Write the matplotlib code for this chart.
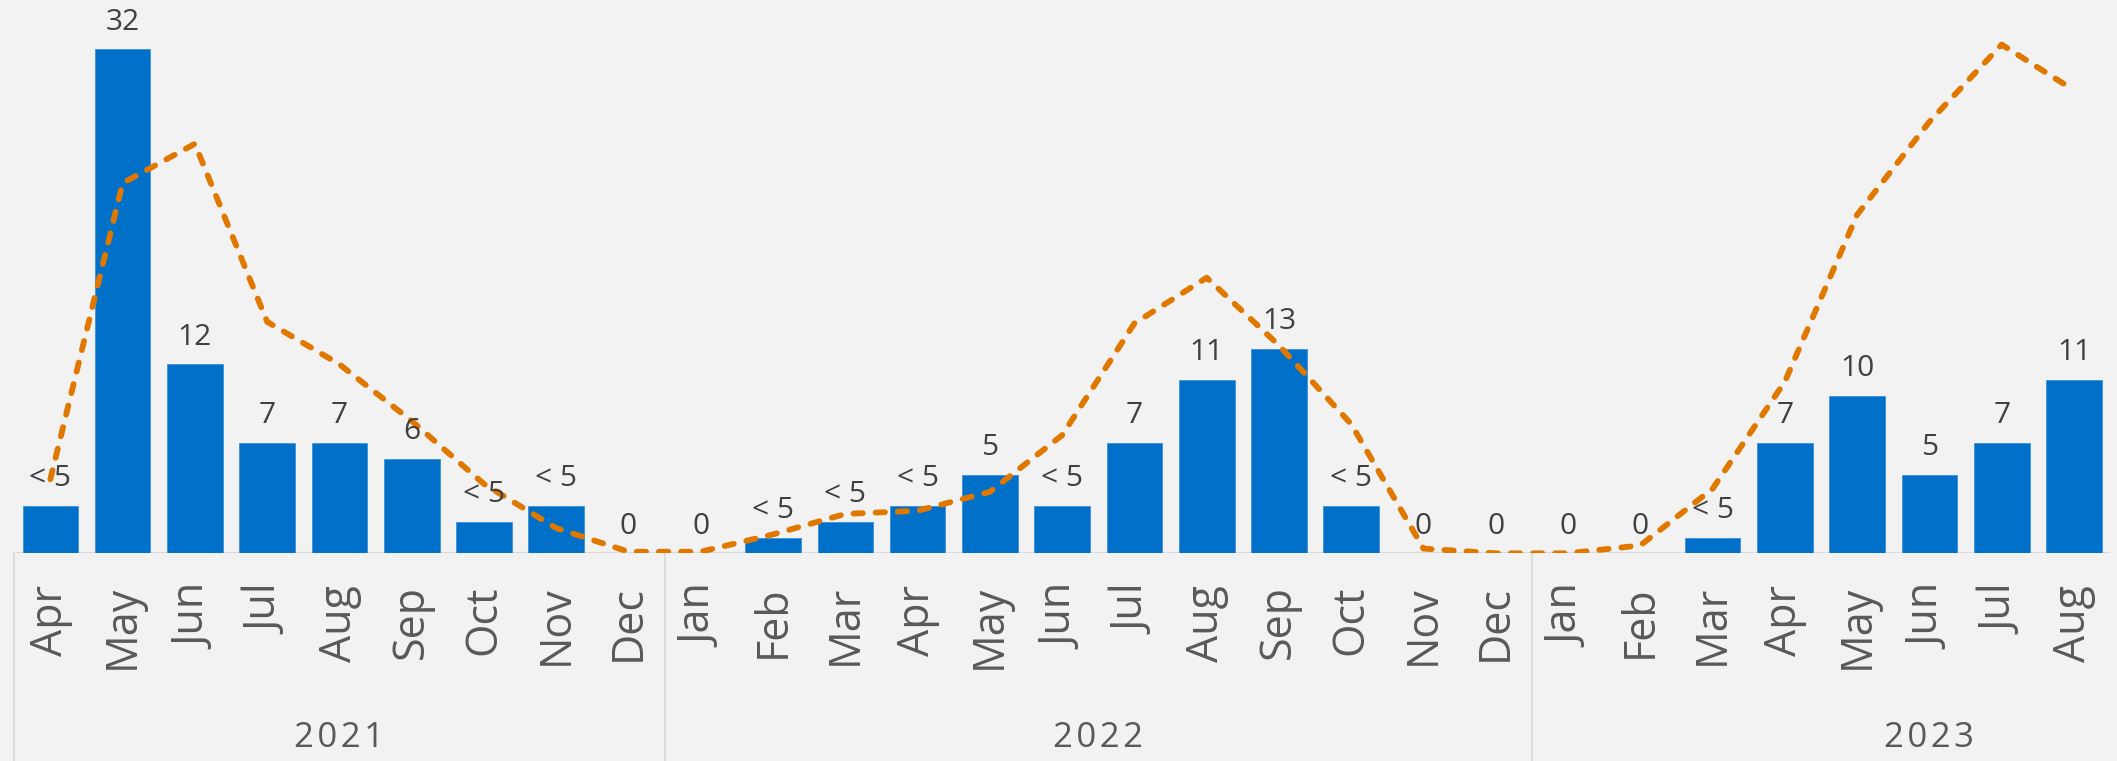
import matplotlib
matplotlib.use("Agg")
import matplotlib.pyplot as plt
import matplotlib.transforms as mtransforms

# ---- data ----
months = ["Apr", "May", "Jun", "Jul", "Aug", "Sep", "Oct", "Nov", "Dec",
          "Jan", "Feb", "Mar", "Apr", "May", "Jun", "Jul", "Aug", "Sep", "Oct", "Nov", "Dec",
          "Jan", "Feb", "Mar", "Apr", "May", "Jun", "Jul", "Aug"]
years = ["2021", "2022", "2023"]
year_counts = [9, 12, 8]
cases = [3, 32, 12, 7, 7, 6, 2, 3, 0,
         0, 1, 2, 3, 5, 3, 7, 11, 13, 3, 0, 0,
         0, 0, 1, 7, 10, 5, 7, 11]
trend = [4.7, 23.5, 26.0, 14.7, 12.0, 8.4, 4.4, 1.6, 0.1,
         0.1, 1.2, 2.5, 2.7, 3.9, 7.5, 14.6, 17.5, 13.2, 8.2, 0.3, 0.0,
         0.0, 0.5, 4.1, 10.9, 21.5, 27.4, 32.3, 29.4]

def label_for(v):
    if 0 < v < 5:
        return "< 5"
    return str(v)

# ---- style ----
BG = "#F2F2F2"
BAR = "#0070C8"
LINE = "#E07800"
GRID = "#D9D9D9"
FONT = ["Open Sans", "DejaVu Sans"]

W, H, DPI = 2117, 761, 100
fig = plt.figure(figsize=(W / DPI, H / DPI), dpi=DPI, facecolor=BG)
left_px, right_px, base_px = 14.2, 2110.1, 553.3
ax = fig.add_axes([left_px / W, 1 - base_px / H, (right_px - left_px) / W, base_px / H])
ax.set_facecolor(BG)

x = list(range(len(months)))
ax.bar(x, cases, width=0.77, color=BAR, edgecolor="#3D8FDC", linewidth=0.6, zorder=2)
ax.plot(x, trend, color=LINE, lw=4.2, linestyle=(0, (1.6, 2.2)),
        dash_capstyle="round", solid_capstyle="round", zorder=4)

for xi, v in zip(x, cases):
    ax.annotate(label_for(v), (xi, v), xytext=(0, 19.5), textcoords="offset points",
                ha="center", va="center", fontsize=21.5, color="#404040",
                family=FONT, zorder=5)

ax.set_xlim(-0.5, len(months) - 0.5)
ax.set_ylim(0, 35.13)
ax.set_yticks([])
for s in ax.spines.values():
    s.set_visible(False)
ax.axhline(0, color=GRID, lw=1.6, zorder=1)

ax.set_xticks(x)
ax.set_xticklabels(months, rotation=90, fontsize=31, color="#595959", family=FONT)
ax.tick_params(axis="x", length=0, pad=23)

# group separators and year labels
trans = mtransforms.blended_transform_factory(ax.transData, ax.transAxes)
ybot = -(1 - base_px / H) / (base_px / H)
bounds = [-0.5]
for c in year_counts:
    bounds.append(bounds[-1] + c)
for b in bounds[:-1]:
    ax.plot([b, b], [0, ybot], color=GRID, lw=1.2, transform=trans, clip_on=False, zorder=1)

year_pos = [4.0, 14.5, 26.0]
year_y = -(738 - base_px) / base_px
for yr, xp in zip(years, year_pos):
    ax.text(xp, year_y, "\u200a".join(yr), transform=trans, ha="center", va="center",
            fontsize=25, color="#595959", family=FONT)

fig.savefig("out.png", dpi=DPI, facecolor=BG)
